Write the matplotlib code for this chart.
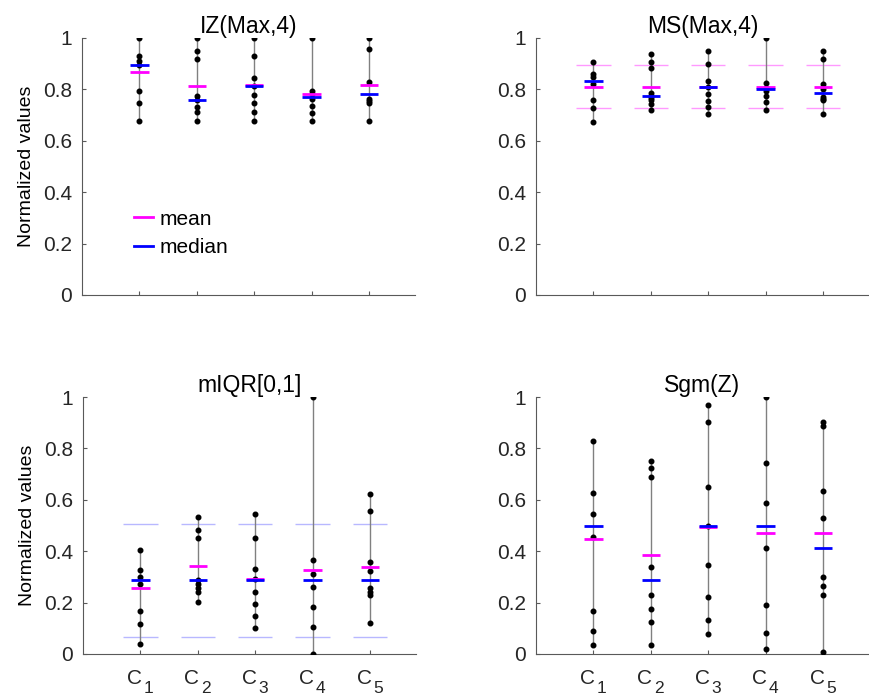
"""Normalized values per class for four separability measures."""

import matplotlib

matplotlib.use("Agg")
import matplotlib.pyplot as plt

plt.rcParams["font.family"] = ["Liberation Sans", "DejaVu Sans"]

group_letter = "C"
group_index = ["1", "2", "3", "4", "5"]
y_ticks = [0, 0.2, 0.4, 0.6, 0.8, 1]
y_tick_labels = ["0", "0.2", "0.4", "0.6", "0.8", "1"]

# IZ(Max,4)
iz_points = [
    [1.0, 0.931, 0.911, 0.895, 0.794, 0.748, 0.678],
    [1.0, 0.951, 0.918, 0.776, 0.759, 0.733, 0.711, 0.678],
    [1.0, 0.931, 0.843, 0.815, 0.778, 0.746, 0.711, 0.678],
    [1.0, 0.795, 0.781, 0.763, 0.735, 0.709, 0.678],
    [1.0, 0.956, 0.830, 0.764, 0.755, 0.746, 0.678],
]
iz_mean = [0.869, 0.812, 0.817, 0.781, 0.817]
iz_median = [0.895, 0.759, 0.812, 0.770, 0.783]

# MS(Max,4)
ms_points = [
    [0.905, 0.858, 0.848, 0.822, 0.758, 0.726, 0.675],
    [0.938, 0.905, 0.882, 0.786, 0.774, 0.768, 0.757, 0.742, 0.721],
    [0.949, 0.900, 0.834, 0.808, 0.782, 0.756, 0.731, 0.705],
    [1.0, 0.825, 0.806, 0.794, 0.773, 0.751, 0.721],
    [0.949, 0.917, 0.822, 0.803, 0.770, 0.761, 0.757, 0.705],
]
ms_mean = [0.810, 0.810, 0.808, 0.810, 0.810]
ms_median = [0.832, 0.774, 0.808, 0.801, 0.786]
ms_band = [0.896, 0.729]

# mIQR[0,1]
miqr_points = [
    [0.404, 0.326, 0.301, 0.274, 0.169, 0.118, 0.040],
    [0.533, 0.484, 0.450, 0.287, 0.274, 0.256, 0.241, 0.204],
    [0.546, 0.453, 0.332, 0.290, 0.241, 0.194, 0.149, 0.102],
    [1.0, 0.367, 0.313, 0.261, 0.181, 0.106, 0.0],
    [0.624, 0.556, 0.358, 0.322, 0.256, 0.241, 0.228, 0.122],
]
miqr_mean = [0.255, 0.342, 0.292, 0.325, 0.338]
miqr_median = [0.287, 0.287, 0.287, 0.287, 0.287]
miqr_band = [0.507, 0.065]

# Sgm(Z)
sgm_points = [
    [0.829, 0.627, 0.543, 0.457, 0.169, 0.091, 0.034],
    [0.752, 0.722, 0.688, 0.340, 0.230, 0.177, 0.125, 0.035],
    [0.969, 0.903, 0.651, 0.499, 0.348, 0.223, 0.133, 0.076],
    [1.0, 0.743, 0.586, 0.411, 0.190, 0.080, 0.019],
    [0.904, 0.887, 0.636, 0.528, 0.299, 0.263, 0.228, 0.009],
]
sgm_mean = [0.446, 0.384, 0.494, 0.472, 0.470]
sgm_median = [0.499, 0.287, 0.499, 0.499, 0.413]

MEAN_COLOR = "#ff00ff"
MEDIAN_COLOR = "#0000ff"
AXIS_COLOR = "0.35"
LABEL_COLOR = "0.15"


def draw_group_labels(ax):
    """MATLAB-style C_k labels with a large, low subscript."""
    trans = ax.get_xaxis_transform()
    for x, index in enumerate(group_index, start=1):
        ax.text(x + 0.03, -0.058, group_letter, transform=trans, ha="right", va="top",
                fontsize=15, color=LABEL_COLOR)
        ax.text(x + 0.06, -0.105, index, transform=trans, ha="left", va="top",
                fontsize=12.5, color=LABEL_COLOR)


def draw_panel(ax, title, points, means, medians, band=None, band_color=None,
               xlabels=False, ylabel=False):
    positions = range(1, len(points) + 1)
    for x, values, mean, median in zip(positions, points, means, medians):
        if band is not None:
            for level in band:
                ax.hlines(level, x - 0.3, x + 0.3, color=band_color, linewidth=1.0, zorder=1)
        ax.vlines(x, min(values), max(values), color="0.5", linewidth=1.0, zorder=2)
        ax.plot([x] * len(values), values, "o", color="black", markersize=3.3, zorder=3)
        ax.hlines(mean, x - 0.16, x + 0.16, color=MEAN_COLOR, linewidth=2, zorder=4)
        ax.hlines(median, x - 0.16, x + 0.16, color=MEDIAN_COLOR, linewidth=2, zorder=5)

    ax.set_xlim(0, 5.8)
    ax.set_ylim(0, 1)
    ax.set_yticks(y_ticks)
    ax.set_yticklabels(y_tick_labels)
    ax.set_xticks(list(positions))
    ax.set_xticklabels([])
    if xlabels:
        draw_group_labels(ax)
    ax.set_title(title, fontsize=16.5, pad=2)
    if ylabel:
        ax.set_ylabel("Normalized values", fontsize=14, labelpad=6)
    for side in ["top", "right"]:
        ax.spines[side].set_visible(False)
    for side in ["left", "bottom"]:
        ax.spines[side].set_color(AXIS_COLOR)
    ax.tick_params(direction="in", length=3, color=AXIS_COLOR, labelsize=15, labelcolor=LABEL_COLOR)
    ax.tick_params(axis="y", pad=7)


fig = plt.figure(figsize=(8.69, 6.97), dpi=100)
ax_iz = fig.add_axes([0.0944, 0.5768, 0.383, 0.3687])
ax_ms = fig.add_axes([0.6168, 0.5768, 0.383, 0.3687])
ax_miqr = fig.add_axes([0.0955, 0.0617, 0.383, 0.3687])
ax_sgm = fig.add_axes([0.6168, 0.0617, 0.383, 0.3687])

draw_panel(ax_iz, "IZ(Max,4)", iz_points, iz_mean, iz_median, ylabel=True)
draw_panel(ax_ms, "MS(Max,4)", ms_points, ms_mean, ms_median,
           band=ms_band, band_color="#ff99ff")
draw_panel(ax_miqr, "mIQR[0,1]", miqr_points, miqr_mean, miqr_median,
           band=miqr_band, band_color="#b8b8ff", xlabels=True, ylabel=True)
draw_panel(ax_sgm, "Sgm(Z)", sgm_points, sgm_mean, sgm_median, xlabels=True)

mean_handle, = ax_iz.plot([], [], color=MEAN_COLOR, linewidth=2, label="mean")
median_handle, = ax_iz.plot([], [], color=MEDIAN_COLOR, linewidth=2, label="median")
ax_iz.legend(handles=[mean_handle, median_handle], loc="center left",
             bbox_to_anchor=(0.1, 0.24), frameon=False, fontsize=15,
             handlelength=0.9, handletextpad=0.3, labelspacing=0.45)

fig.savefig("out.png", dpi=100)
